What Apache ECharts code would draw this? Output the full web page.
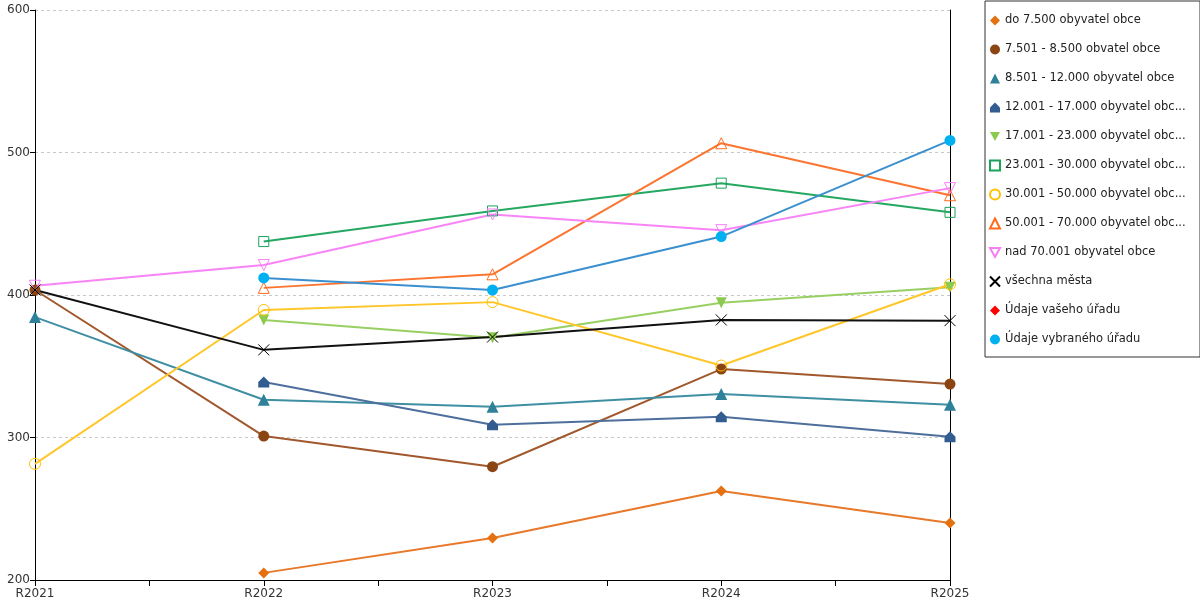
<!DOCTYPE html>
<html>
  <head>
    <meta charset="UTF-8">
    <script src="https://cdn.jsdelivr.net/npm/echarts@6/dist/echarts.min.js"></script>
    <title>Obyvatel obce</title>
  </head>
  <body style="margin:0">
    <div id="main" style="width: 1200px;height:600px;"></div>
    <script type="text/javascript">
      var years = ['R2021', 'R2022', 'R2023', 'R2024', 'R2025'];

      var names = [
        'do 7.500 obyvatel obce',
        '7.501 - 8.500 obvatel obce',
        '8.501 - 12.000 obyvatel obce',
        '12.001 - 17.000 obyvatel obce',
        '17.001 - 23.000 obyvatel obce',
        '23.001 - 30.000 obyvatel obce',
        '30.001 - 50.000 obyvatel obce',
        '50.001 - 70.000 obyvatel obce',
        'nad 70.001 obyvatel obce',
        'všechna města',
        'Údaje vašeho úřadu',
        'Údaje vybraného úřadu'
      ];

      var do7500 = [null, 205, 229.5, 262.5, 240];
      var do8500 = [403.5, 301, 279.5, 348, 337.5];
      var do12000 = [384.5, 326.5, 321.5, 330.5, 323];
      var do17000 = [null, 339, 309, 314.5, 300.5];
      var do23000 = [null, 382.5, 370, 394.5, 405.5];
      var do30000 = [null, 437.5, 459, 478.5, 458];
      var do50000 = [281.5, 389.5, 395, 350.5, 407.5];
      var do70000 = [null, 405, 414.5, 506.5, 470];
      var nad70001 = [406.5, 421, 456.5, 445.5, 475];
      var vsechna = [403.5, 361.5, 370.5, 382.5, 382];
      var vasUrad = [null, null, null, null, null];
      var vybranyUrad = [null, 412, 403.5, 441, 508.5];

      var values = [do7500, do8500, do12000, do17000, do23000, do30000,
                    do50000, do70000, nad70001, vsechna, vasUrad, vybranyUrad];

      var house = 'path://M5,0 L10,5 L10,10 L0,10 L0,5 Z';
      var downTri = 'path://M0,0 L10,0 L5,9 Z';
      var cross = 'path://M0,0 L10,10 M10,0 L0,10';

      // symbol, marker colour, line colour, filled?, size
      var looks = [
        ['diamond', '#e5700f', '#e8782a', true, 11],
        ['circle', '#8b4513', '#a0582c', true, 11],
        ['triangle', '#2e8199', '#3f8fa3', true, 12],
        [house, '#335d90', '#4e6f9c', true, 11],
        [downTri, '#8cc94f', '#98cf62', true, 11],
        ['rect', '#1aa35a', '#25a862', false, 10],
        ['circle', '#ffc000', '#ffc62a', false, 11],
        ['triangle', '#ff6a1a', '#fb7430', false, 11],
        [downTri, '#f77ef5', '#f884f6', false, 11],
        [cross, '#000000', '#111111', false, 11],
        ['diamond', '#ff0000', '#ff0000', true, 11],
        ['circle', '#00b0f0', '#3a90cf', true, 11]
      ];

      var series = [];
      var legendData = [];
      for (var i = 0; i < names.length; i++) {
        var lk = looks[i];
        var pts = [];
        for (var j = 0; j < years.length; j++) {
          if (values[i][j] !== null) pts.push([j, values[i][j]]);
        }
        var itemStyle = lk[3]
          ? { color: lk[1] }
          : { color: 'rgba(255,255,255,0)', borderColor: lk[1], borderWidth: 1 };
        series.push({
          name: names[i],
          type: 'line',
          symbol: lk[0],
          symbolSize: lk[4],
          showAllSymbol: true,
          itemStyle: itemStyle,
          lineStyle: { color: lk[2], width: 2 },
          emphasis: { disabled: true },
          data: pts
        });
        legendData.push({ name: names[i], icon: lk[0] });
      }

      var myChart = echarts.init(document.getElementById('main'));

      var option = {
        animation: false,
        textStyle: { fontFamily: 'DejaVu Sans' },
        grid: { left: 35, right: 250, top: 10, bottom: 20 },
        legend: {
          orient: 'vertical',
          left: 985,
          top: 1,
          padding: [13, 11, 11, 4],
          itemWidth: 10,
          itemHeight: 10,
          itemGap: 16,
          borderColor: '#333',
          borderWidth: 1,
          selectedMode: false,
          // long names are cut like in the original legend
          formatter: function (name) {
            return name.length > 28 ? name.slice(0, 28) + '...' : name;
          },
          textStyle: {
            fontFamily: 'DejaVu Sans',
            fontSize: 11.5,
            lineHeight: 13,
            color: '#222',
            width: 184
          },
          data: legendData
        },
        xAxis: {
          type: 'value',
          min: 0,
          max: years.length - 1,
          interval: 0.5,
          splitLine: { show: false },
          axisLine: { lineStyle: { color: '#000' } },
          axisTick: { length: 6, lineStyle: { color: '#000' } },
          axisLabel: {
            color: '#333',
            fontSize: 12,
            margin: 8,
            showMinLabel: true,
            showMaxLabel: true,
            formatter: function (v) {
              return Number.isInteger(v) ? years[v] : '';
            }
          }
        },
        yAxis: [{
          type: 'value',
          min: 200,
          max: 600,
          interval: 100,
          axisLine: { show: true, lineStyle: { color: '#000' } },
          axisTick: { show: true, length: 5, lineStyle: { color: '#000' } },
          axisLabel: { color: '#333', fontSize: 12, margin: 5 },
          splitLine: { lineStyle: { color: '#c8c8c8', type: [3, 3] } }
        }, {
          type: 'value',
          position: 'right',
          min: 200,
          max: 600,
          interval: 100,
          axisLine: { show: true, lineStyle: { color: '#000' } },
          axisTick: { show: false },
          axisLabel: { show: false },
          splitLine: { show: false }
        }],
        series: series
      };

      myChart.setOption(option);
    </script>
  </body>
</html>
